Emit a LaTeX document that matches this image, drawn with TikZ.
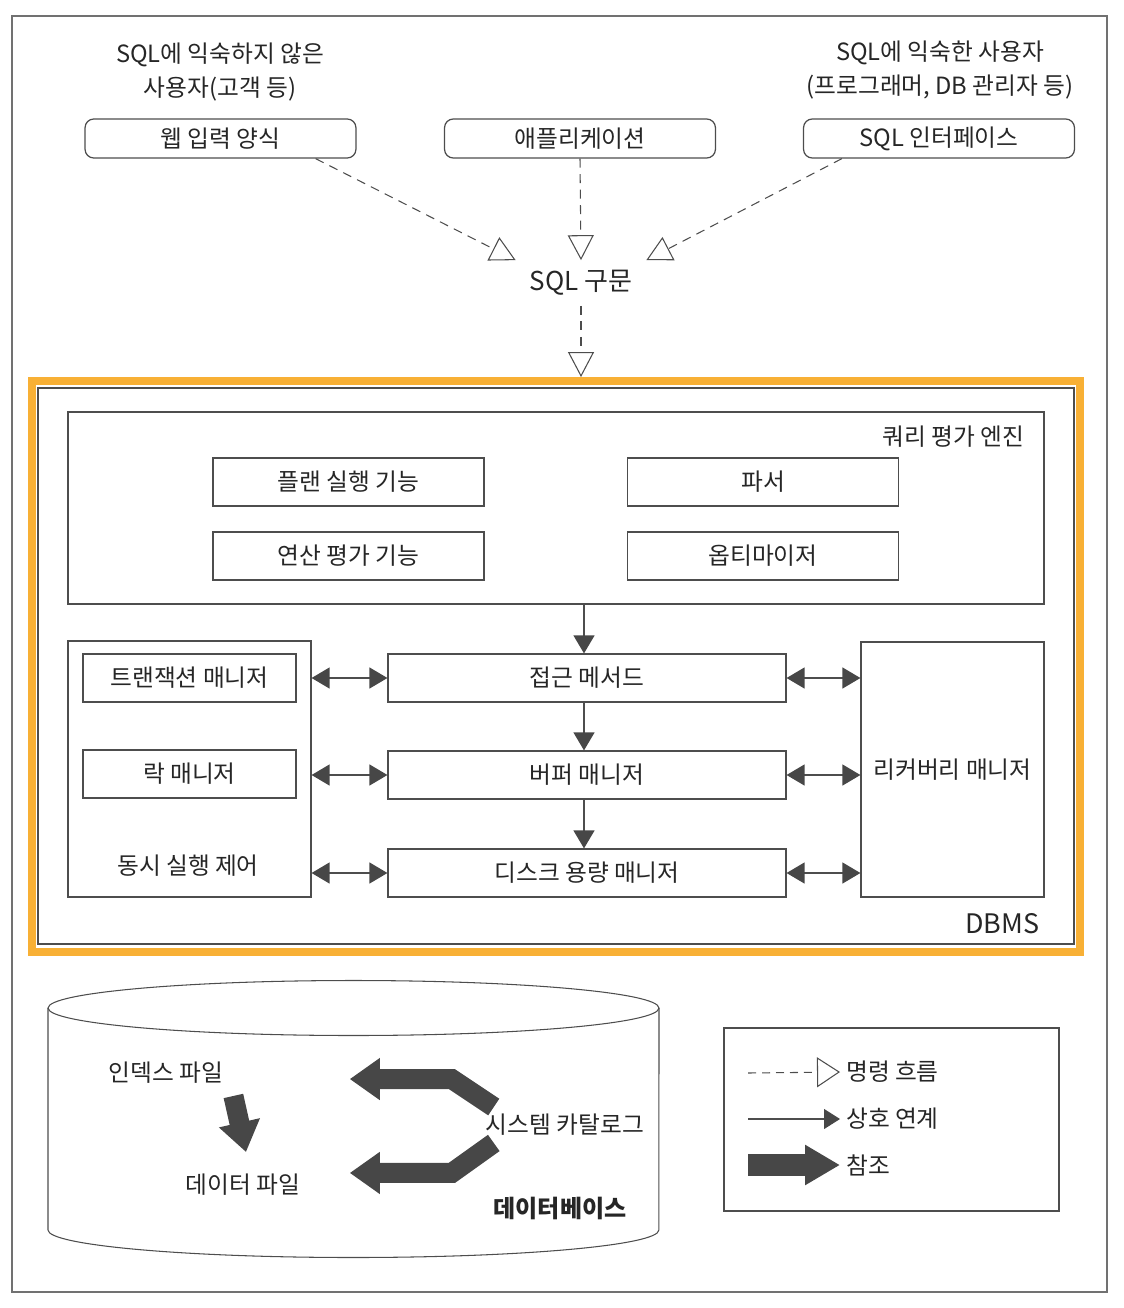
\documentclass[tikz,border=0pt]{standalone}
\usepackage{fontspec}
\setmainfont{Noto Sans CJK KR}
\usepackage{tikz}
\usetikzlibrary{calc,arrows.meta}
\definecolor{frameorange}{HTML}{F8B035}
\definecolor{linegray}{HTML}{4D4D4D}
\definecolor{headgray}{HTML}{474747}

\begin{document}
\begin{tikzpicture}[x=0.02cm,y=-0.02cm,font=\fontsize{13.5}{19}\selectfont,
  every node/.style={text=black!85},
  inbox/.style={draw=linegray,line width=0.7pt,rounded corners=5pt,minimum width=5.42cm,minimum height=0.78cm},
  partbox/.style={draw=linegray,line width=0.7pt,minimum height=0.96cm},
  grpbox/.style={draw=linegray,line width=0.7pt},
  cmd/.style={linegray,line width=0.6pt,dash pattern=on 0.18cm off 0.13cm,
    -{Triangle[open,length=0.5cm,width=0.52cm,fill=white]}},
  link/.style={linegray,line width=0.7pt,
    {Triangle[length=0.36cm,width=0.42cm,color=headgray]}-{Triangle[length=0.36cm,width=0.42cm,color=headgray]}},
  flow/.style={linegray,line width=0.7pt,-{Triangle[length=0.36cm,width=0.42cm,color=headgray]}},
  refer/.style={headgray,line width=0.4cm,-{Triangle[length=0.6cm,width=0.8cm]}}]
  \useasboundingbox (0,0) rectangle (1124,1308);
  \draw[linegray!80,line width=0.6pt] (12,16) rectangle (1107,1292);

  \node[align=center] (novice) at (220,72) {SQL에 익숙하지 않은\\사용자(고객 등)};
  \node[align=center] (expert) at (940,70) {SQL에 익숙한 사용자\\(프로그래머, DB 관리자 등)};
  \node[inbox] (web) at (220.5,138.5) {웹 입력 양식};
  \node[inbox] (app) at (580,138.5) {애플리케이션};
  \node[inbox] (sqlif) at (939,138.5) {SQL 인터페이스};
  \node[minimum width=2.6cm,minimum height=0.9cm,font=\fontsize{14.8}{16}\selectfont] (stmt) at (581,283) {SQL 구문};

  \draw[cmd] ($(web.south east)+(-41,0)$) -- (stmt.north west);
  \draw[cmd] (app.south) -- (stmt.north);
  \draw[cmd] ($(sqlif.south west)+(39,0)$) -- (stmt.north east);

  \node[draw=frameorange,line width=0.16cm,minimum width=20.96cm,minimum height=11.42cm] (dbms) at (556,666.5) {};
  \draw[cmd] (stmt.south) -- (stmt.south |- dbms.north);
  \node[grpbox,minimum width=20.72cm,minimum height=11.12cm] (dbmsin) at (556,666) {};
  \node[anchor=south east,font=\fontsize{15.3}{17}\selectfont] (dbmslabel) at ($(dbmsin.south east)+(-29,-5)$) {DBMS};

  \node[grpbox,minimum width=19.52cm,minimum height=3.84cm] (engine) at (556,508) {};
  \node[anchor=north east] (enginelabel) at ($(engine.north east)+(-14,8)$) {쿼리 평가 엔진};
  \node[partbox,minimum width=5.42cm] (plan) at (348.5,482) {플랜 실행 기능};
  \node[partbox,minimum width=5.42cm] (parser) at (763,482) {파서};
  \node[partbox,minimum width=5.42cm] (evalop) at (348.5,556) {연산 평가 기능};
  \node[partbox,minimum width=5.42cm] (optim) at (763,556) {옵티마이저};

  \node[grpbox,minimum width=4.86cm,minimum height=5.12cm] (cc) at (189.5,769) {};
  \node[partbox,minimum width=4.26cm] (txn) at (189.5,678) {트랜잭션 매니저};
  \node[partbox,minimum width=4.26cm] (lock) at (189.5,774) {락 매니저};
  \node (cclabel) at (188,866) {동시 실행 제어};

  \node[partbox,minimum width=7.96cm] (access) at (587,678) {접근 메서드};
  \node[partbox,minimum width=7.96cm] (buffer) at (587,775) {버퍼 매니저};
  \node[partbox,minimum width=7.96cm] (disk) at (587,873) {디스크 용량 매니저};
  \node[grpbox,minimum width=3.66cm,minimum height=5.1cm] (recovery) at (952.5,769.5) {리커버리 매니저};

  \draw[flow] ($(engine.south)+(28,0)$) -- ($(access.north)+(-3,0)$);
  \draw[flow] ($(access.south)+(-3,0)$) -- ($(buffer.north)+(-3,0)$);
  \draw[flow] ($(buffer.south)+(-3,0)$) -- ($(disk.north)+(-3,0)$);
  \draw[link] (cc.east |- access) -- (access.west);
  \draw[link] (cc.east |- buffer) -- (buffer.west);
  \draw[link] (cc.east |- disk) -- (disk.west);
  \draw[link] (access.east) -- (recovery.west |- access);
  \draw[link] (buffer.east) -- (recovery.west |- buffer);
  \draw[link] (disk.east) -- (recovery.west |- disk);

  \draw[linegray,line width=0.6pt] (353.5,1008) ellipse [x radius=6.11cm,y radius=0.55cm];
  \draw[linegray,line width=0.6pt] (48,1008) -- (48,1230)
    arc[start angle=180,end angle=360,x radius=6.11cm,y radius=0.55cm] -- (659,1008);
  \node (idx) at (166,1073) {인덱스 파일};
  \node (datafile) at (243,1185) {데이터 파일};
  \node (catalog) at (565,1125) {시스템 카탈로그};
  \node[font=\fontsize{13.7}{15}\selectfont\bfseries] (dbname) at (560,1208) {데이터베이스};
  \draw[refer] ($(idx.south east)+(4,6)$) -- ($(datafile.north)+(3,-16)$);
  \draw[refer] ($(catalog.north west)+(14,-1)$) -- ++(-42,-28) -- ++(-102,0);
  \draw[refer] ($(catalog.south west)+(14,1)$) -- ++(-42,30) -- ++(-102,0);

  \node[grpbox,minimum width=6.7cm,minimum height=3.66cm] (legend) at (891.5,1119.5) {};
  \node[anchor=west] (cmdtext) at (840,1072) {명령 흐름};
  \node[anchor=west] (linktext) at (840,1119) {상호 연계};
  \node[anchor=west] (refertext) at (840,1165) {참조};
  \coordinate (cmdfrom) at (748,1073);
  \coordinate (linkfrom) at (748,1119);
  \coordinate (referfrom) at (748,1165);
  \draw[linegray,line width=0.6pt,dash pattern=on 0.16cm off 0.12cm,
    -{Triangle[open,length=0.46cm,width=0.6cm,fill=white]}] (cmdfrom) -- (cmdtext.west);
  \draw[linegray,line width=0.6pt,-{Triangle[length=0.32cm,width=0.4cm,color=headgray]}] (linkfrom) -- (linktext.west);
  \draw[headgray,line width=0.44cm,-{Triangle[length=0.7cm,width=0.76cm]}] (referfrom) -- (refertext.west);
\end{tikzpicture}
\end{document}
